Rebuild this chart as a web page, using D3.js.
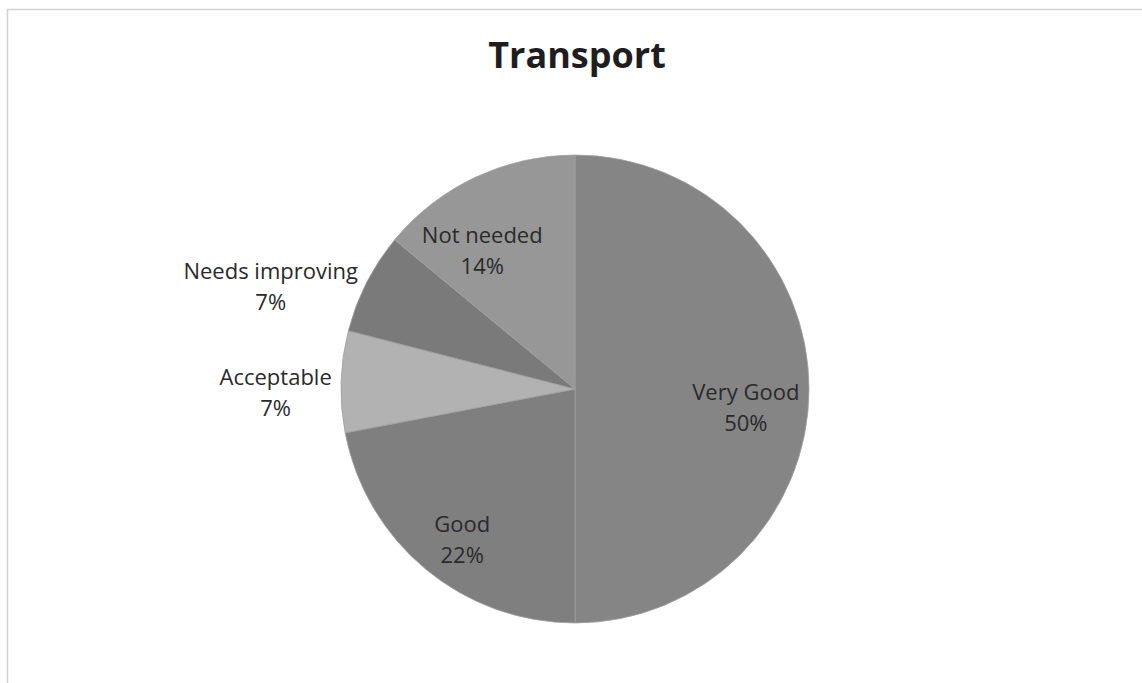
<!DOCTYPE html>
<html>
<head>
<meta charset="utf-8">
<script src="https://cdn.jsdelivr.net/npm/d3@7"></script>
<style>
  html, body { margin: 0; padding: 0; background: #ffffff; }
  svg { display: block; }
</style>
</head>
<body>
<svg id="chart" width="1142" height="683"></svg>
<script>
// ---- data ----
const categories = ["Very Good", "Good", "Acceptable", "Needs improving", "Not needed"];
const values = [50, 22, 7, 7, 14];
const percentLabels = ["50%", "22%", "7%", "7%", "14%"];
const chartTitle = "Transport";

// ---- styling / layout ----
const colors = ["#858585", "#7f7f7f", "#b2b2b2", "#7a7a7a", "#979797"];
// label radius (fraction of pie radius) and small nudges, per slice
const labelRadius = [0.73, 0.81, 1.28, 1.33, 0.71];
const labelNudge = [[0, 19], [8, 5], [0, 13], [-27, 39], [-22, 12]];

const W = 1142, H = 683;
const cx = 575, cy = 389, R = 234;
const font = "'Open Sans', Lato, sans-serif";

const svg = d3.select("#chart");

// frame
svg.append("path")
  .attr("d", `M7.5,${H} L7.5,9.5 L${W},9.5`)
  .attr("fill", "none")
  .attr("stroke", "#d2d2d2")
  .attr("stroke-width", 1.5);

svg.append("text")
  .attr("x", 577)
  .attr("y", 68)
  .attr("text-anchor", "middle")
  .attr("font-family", font)
  .attr("font-weight", "bold")
  .attr("font-size", 36)
  .attr("fill", "#1e1e1e")
  .text(chartTitle);

const pie = d3.pie().sort(null).value(d => d)
  .startAngle(0).endAngle(2 * Math.PI);
const arcs = pie(values);
const arc = d3.arc().innerRadius(0).outerRadius(R);

const g = svg.append("g").attr("transform", `translate(${cx},${cy})`);

g.selectAll("path.slice")
  .data(arcs)
  .join("path")
  .attr("class", "slice")
  .attr("d", arc)
  .attr("fill", (d, i) => colors[i])
  .attr("stroke", "#a0a0a0")
  .attr("stroke-width", 0.8);

const labels = g.selectAll("g.lbl")
  .data(arcs)
  .join("g")
  .attr("class", "lbl")
  .attr("transform", (d, i) => {
    const la = d3.arc().innerRadius(R * labelRadius[i]).outerRadius(R * labelRadius[i]);
    const [x, y] = la.centroid(d);
    return `translate(${x + labelNudge[i][0]},${y + labelNudge[i][1]})`;
  });

labels.append("text")
  .attr("text-anchor", "middle")
  .attr("y", -8)
  .attr("font-family", font)
  .attr("font-size", 22)
  .attr("fill", "#2a2a2a")
  .text((d, i) => categories[i]);

labels.append("text")
  .attr("text-anchor", "middle")
  .attr("y", 23)
  .attr("font-family", font)
  .attr("font-size", 22)
  .attr("fill", "#2a2a2a")
  .text((d, i) => percentLabels[i]);
</script>
</body>
</html>
